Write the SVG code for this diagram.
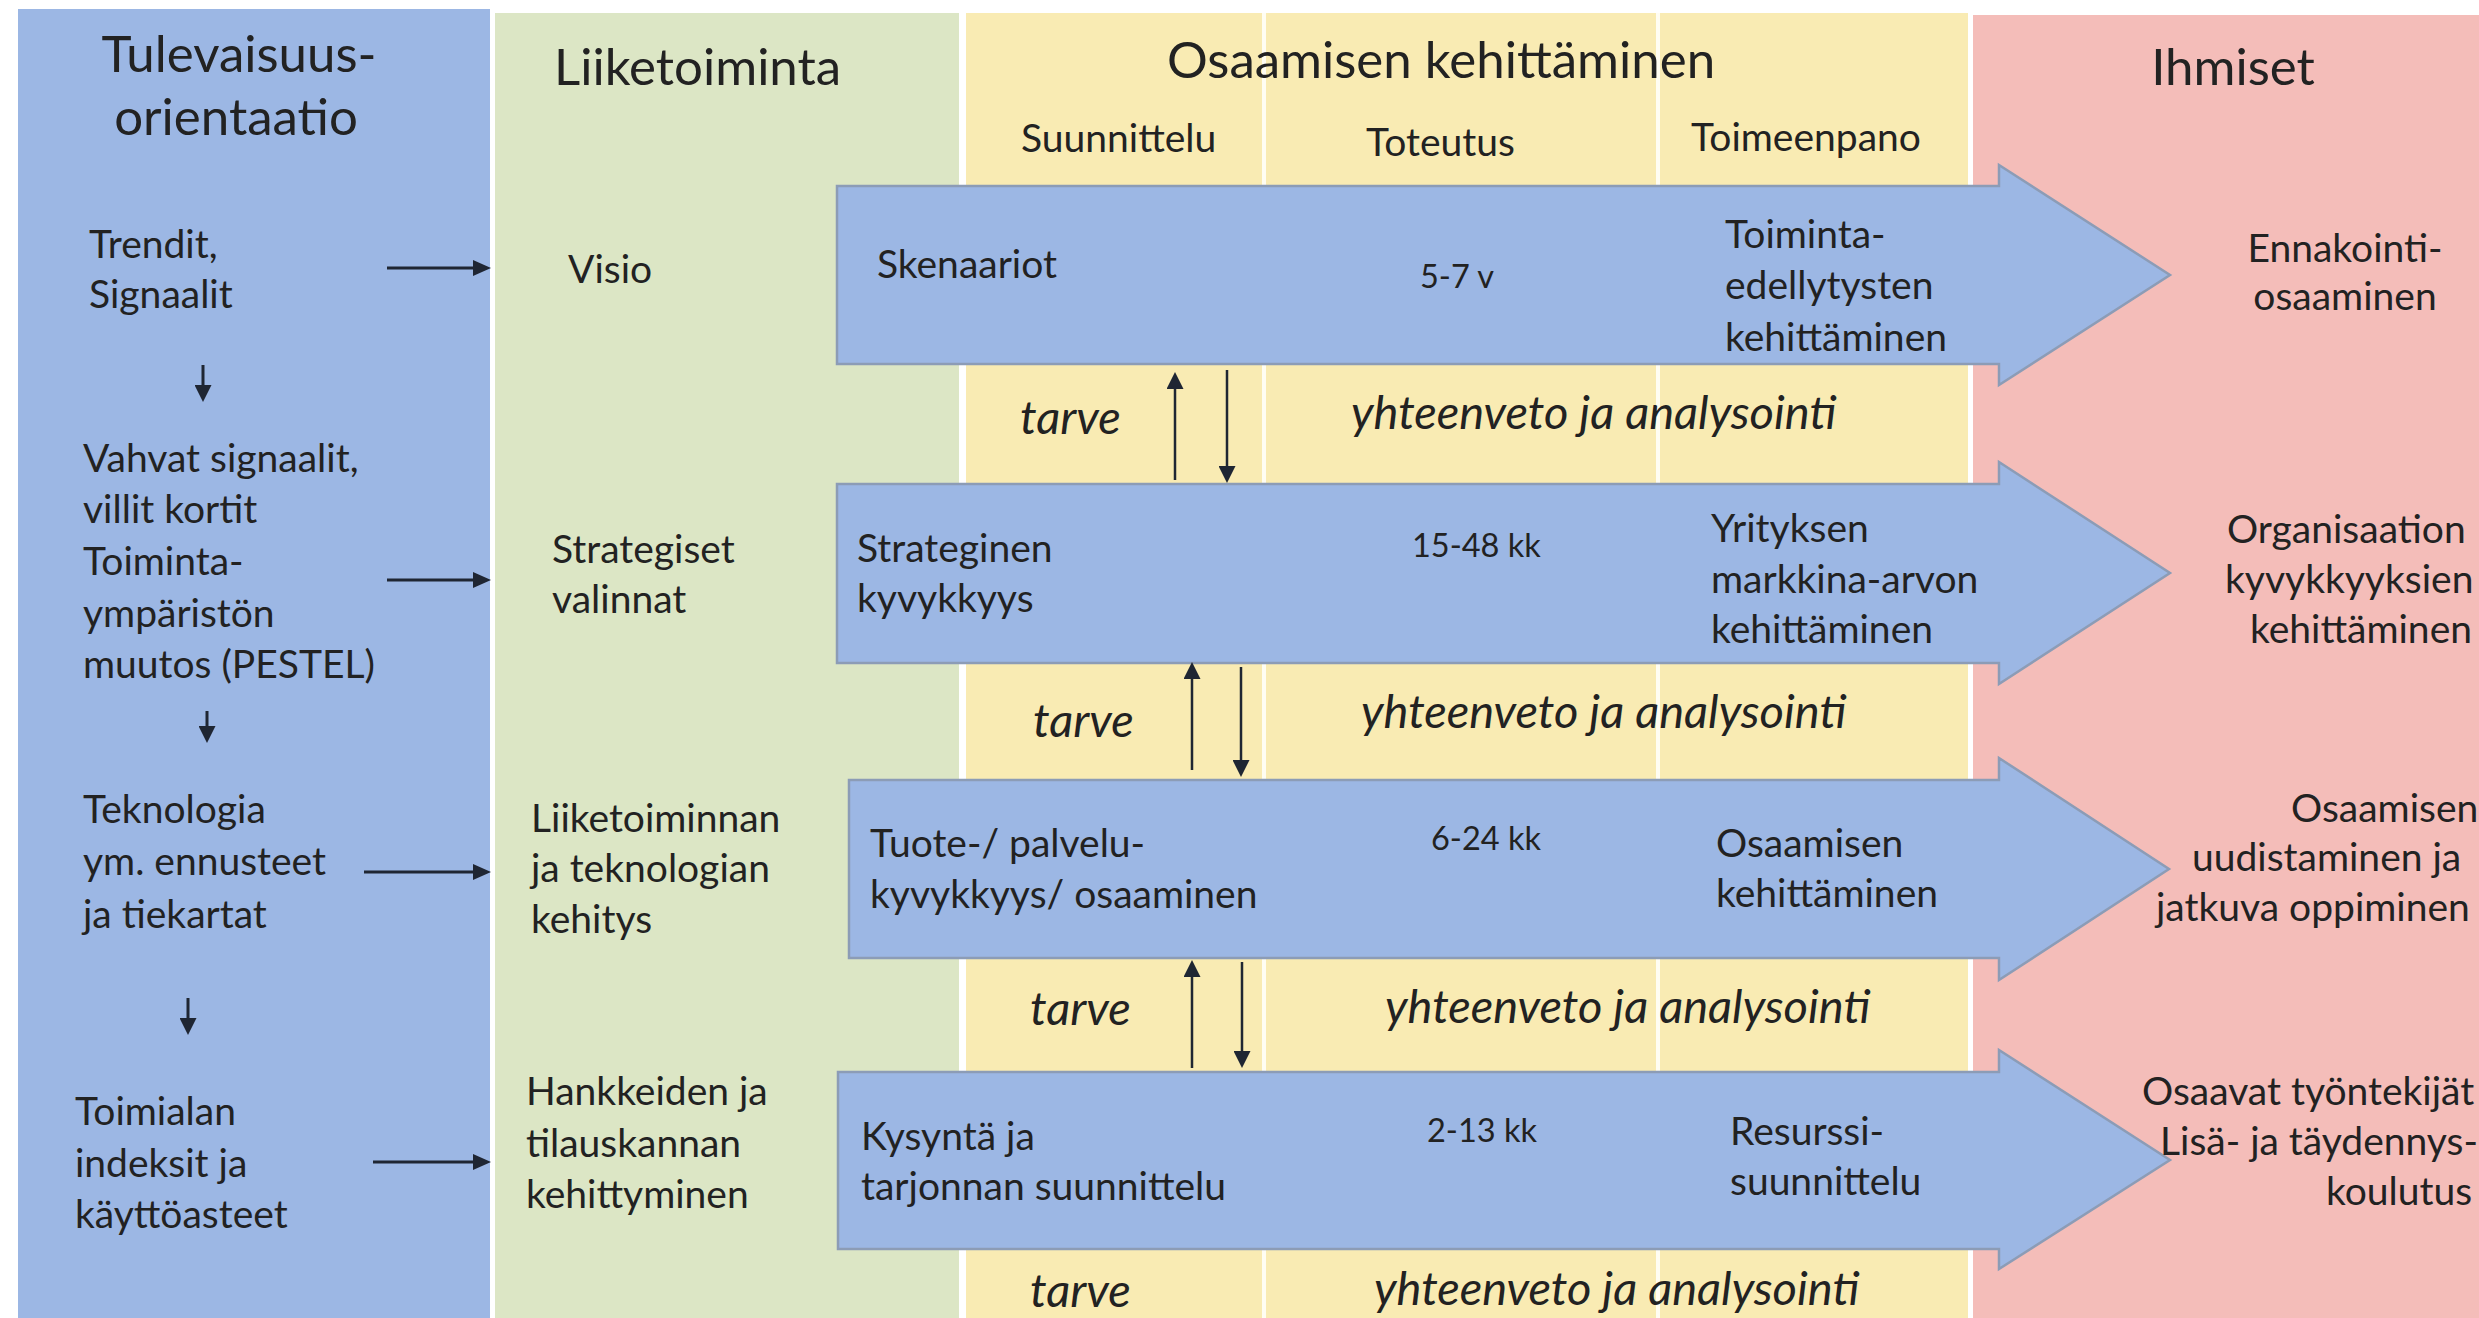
<svg xmlns="http://www.w3.org/2000/svg" width="2479" height="1318" viewBox="0 0 2479 1318">
<style>
text{font-family:Lato,"Liberation Sans",sans-serif;fill:#222;}
.t{font-size:51px;}
.b{font-size:39px;}
.n{font-size:32.5px;}
.p{font-size:39px;}
.i{font-size:47px;font-style:italic;}
.m{text-anchor:middle;}
.big{fill:#9cb7e4;stroke:#8c9cb6;stroke-width:2.5;}
.c{stroke:#1f2633;stroke-width:3;fill:none;}
.cs{stroke:#1f2633;stroke-width:2.5;fill:none;}
</style>
<defs>
<marker id="ah" viewBox="0 0 18 16" refX="8" refY="8" markerWidth="18" markerHeight="16" markerUnits="userSpaceOnUse" orient="auto"><path d="M0,0 L18,8 L0,16 z" fill="#1f2633"/></marker>
<marker id="as" viewBox="0 0 17 17" refX="7" refY="8.5" markerWidth="17" markerHeight="17" markerUnits="userSpaceOnUse" orient="auto"><path d="M0,0 L17,8.5 L0,17 z" fill="#1f2633"/></marker>
</defs>
<rect width="2479" height="1318" fill="#ffffff"/>
<g id="panels">
<rect x="18" y="9" width="472" height="1309" fill="#9cb7e4"/>
<rect x="495" y="13" width="464" height="1305" fill="#dce6c5"/>
<rect x="966" y="13" width="1002" height="1305" fill="#f9ebb3"/>
<rect x="1973" y="15" width="506" height="1303" fill="#f4bdb9"/>
<rect x="1262" y="13" width="4" height="1305" fill="#fffdf2"/>
<rect x="1656" y="13" width="4" height="1305" fill="#fffdf2"/>
</g>
<g id="headers">
<text class="t m" x="239" y="72">Tulevaisuus-</text>
<text class="t m" x="236" y="135">orientaatio</text>
<text class="t" x="554" y="85">Liiketoiminta</text>
<text class="t m" x="1441" y="78">Osaamisen kehittäminen</text>
<text class="t m" x="2233" y="85">Ihmiset</text>
<text class="b" x="1021" y="152">Suunnittelu</text>
<text class="b" x="1366" y="156">Toteutus</text>
<text class="b" x="1691" y="151">Toimeenpano</text>
</g>
<g id="future">
<text class="b" x="89" y="258">Trendit,</text>
<text class="b" x="89" y="308">Signaalit</text>
<text class="b" x="83" y="472">Vahvat signaalit,</text>
<text class="b" x="83" y="523">villit kortit</text>
<text class="b" x="83" y="575">Toiminta-</text>
<text class="b" x="83" y="627">ympäristön</text>
<text class="b" x="83" y="678">muutos (PESTEL)</text>
<text class="b" x="83" y="823">Teknologia</text>
<text class="b" x="83" y="875">ym. ennusteet</text>
<text class="b" x="83" y="928">ja tiekartat</text>
<text class="b" x="75" y="1125">Toimialan</text>
<text class="b" x="75" y="1177">indeksit ja</text>
<text class="b" x="75" y="1228">käyttöasteet</text>
</g>
<g id="business">
<text class="b" x="568" y="283">Visio</text>
<text class="b" x="552" y="563">Strategiset</text>
<text class="b" x="552" y="613">valinnat</text>
<text class="b" x="531" y="832">Liiketoiminnan</text>
<text class="b" x="531" y="882">ja teknologian</text>
<text class="b" x="531" y="933">kehitys</text>
<text class="b" x="526" y="1105">Hankkeiden ja</text>
<text class="b" x="526" y="1157">tilauskannan</text>
<text class="b" x="526" y="1208">kehittyminen</text>
</g>
<g id="arrow1">
<polygon class="big" points="837,186 1999,186 1999,165 2170,275 1999,385 1999,364 837,364"/>
<text class="b" x="877" y="278">Skenaariot</text>
<text class="n" x="1420" y="288">5-7 v</text>
<text class="b" x="1725" y="248">Toiminta-</text>
<text class="b" x="1725" y="299">edellytysten</text>
<text class="b" x="1725" y="351">kehittäminen</text>
</g>
<g id="arrow2">
<polygon class="big" points="837,484 1999,484 1999,462 2170,573 1999,684 1999,663 837,663"/>
<text class="b" x="857" y="562">Strateginen</text>
<text class="b" x="857" y="612">kyvykkyys</text>
<text class="n" x="1412" y="557">15-48 kk</text>
<text class="b" x="1711" y="542">Yrityksen</text>
<text class="b" x="1711" y="593">markkina-arvon</text>
<text class="b" x="1711" y="643">kehittäminen</text>
</g>
<g id="arrow3">
<polygon class="big" points="849,780 1999,780 1999,758 2169,869 1999,980 1999,958 849,958"/>
<text class="b" x="870" y="857">Tuote-/ palvelu-</text>
<text class="b" x="870" y="908">kyvykkyys/ osaaminen</text>
<text class="n" x="1431" y="850">6-24 kk</text>
<text class="b" x="1716" y="857">Osaamisen</text>
<text class="b" x="1716" y="907">kehittäminen</text>
</g>
<g id="arrow4">
<polygon class="big" points="838,1072 1999,1072 1999,1050 2170,1160 1999,1269 1999,1249 838,1249"/>
<text class="b" x="861" y="1150">Kysyntä ja</text>
<text class="b" x="861" y="1200">tarjonnan suunnittelu</text>
<text class="n" x="1427" y="1142">2-13 kk</text>
<text class="b" x="1730" y="1145">Resurssi-</text>
<text class="b" x="1730" y="1195">suunnittelu</text>
</g>
<g id="feedback">
<text class="i" x="1020" y="434">tarve</text>
<text class="i" x="1351" y="429">yhteenveto ja analysointi</text>
<text class="i" x="1033" y="737">tarve</text>
<text class="i" x="1361" y="728">yhteenveto ja analysointi</text>
<text class="i" x="1030" y="1025">tarve</text>
<text class="i" x="1385" y="1023">yhteenveto ja analysointi</text>
<text class="i" x="1030" y="1307">tarve</text>
<text class="i" x="1374" y="1305">yhteenveto ja analysointi</text>
</g>
<g id="people">
<text class="p m" x="2345" y="262">Ennakointi-</text>
<text class="p m" x="2345" y="310">osaaminen</text>
<text class="p" x="2227" y="543">Organisaation</text>
<text class="p" x="2225" y="593">kyvykkyyksien</text>
<text class="p" x="2250" y="643">kehittäminen</text>
<text class="p" x="2291" y="822">Osaamisen</text>
<text class="p" x="2192" y="871">uudistaminen ja</text>
<text class="p" x="2156" y="921">jatkuva oppiminen</text>
<text class="p" x="2142" y="1105">Osaavat työntekijät</text>
<text class="p" x="2160" y="1155">Lisä- ja täydennys-</text>
<text class="p" x="2326" y="1205">koulutus</text>
</g>
<g id="connectors">
<path class="c" d="M387,268 H481" marker-end="url(#ah)"/>
<path class="c" d="M387,580 H481" marker-end="url(#ah)"/>
<path class="c" d="M364,872 H481" marker-end="url(#ah)"/>
<path class="c" d="M373,1162 H481" marker-end="url(#ah)"/>
<path class="c" d="M203,365 V392" marker-end="url(#as)"/>
<path class="c" d="M207,711 V733" marker-end="url(#as)"/>
<path class="c" d="M188,998 V1025" marker-end="url(#as)"/>
<path class="cs" d="M1175,480 V382" marker-end="url(#as)"/>
<path class="cs" d="M1227,370 V473" marker-end="url(#as)"/>
<path class="cs" d="M1192,770 V672" marker-end="url(#as)"/>
<path class="cs" d="M1241,667 V767" marker-end="url(#as)"/>
<path class="cs" d="M1192,1068 V970" marker-end="url(#as)"/>
<path class="cs" d="M1242,962 V1058" marker-end="url(#as)"/>
</g>
</svg>
